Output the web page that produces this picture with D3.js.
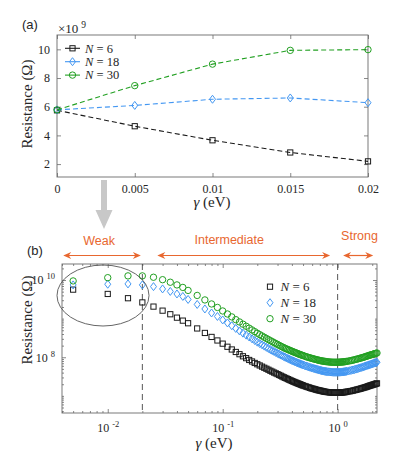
<!DOCTYPE html>
<html>
<head>
<meta charset="utf-8">
<script src="https://cdn.jsdelivr.net/npm/d3@7"></script>
<style>
  body { margin: 0; background: #fff; }
  svg text { font-family: "Liberation Serif", "Times New Roman", serif; fill: #262626; }
  svg text.sans { font-family: "Liberation Sans", Arial, sans-serif; }
</style>
</head>
<body>
<svg id="fig" width="399" height="451"></svg>
<script>
// ---- panel (a) data: resistance in units of 1e9 ohm ----
var gammaA = [0, 0.005, 0.01, 0.015, 0.02];
var resA6  = [5.75, 4.64, 3.66, 2.81, 2.19];
var resA18 = [5.78, 6.09, 6.52, 6.61, 6.28];
var resA30 = [5.78, 7.47, 8.97, 9.93, 9.98];
var xTicksA = [0, 0.005, 0.01, 0.015, 0.02];
var xTickLabelsA = ["0", "0.005", "0.01", "0.015", "0.02"];
var yTicksA = [2, 4, 6, 8, 10];

// ---- panel (b) data: resistance in ohm ----
var gammaB = [0.005,0.01,0.015,0.02,0.025,0.03,0.035,0.04,0.045,0.05,
  0.06,0.07,0.08,0.09,0.1,0.11,0.12,0.13,0.14,0.15,0.16,0.17,0.18,0.19,0.2,
  0.21,0.22,0.23,0.24,0.25,0.26,0.27,0.28,0.29,
  0.30,0.31,0.32,0.33,0.34,0.35,0.36,0.37,0.38,0.39,0.40,0.41,0.42,0.43,0.44,0.45,0.46,0.47,0.48,0.49,0.50,
  0.515,0.53,0.545,0.56,0.575,0.59,0.605,0.62,0.635,0.65,0.665,0.68,0.695,0.71,0.725,0.74,0.755,0.77,0.785,0.80,
  0.82,0.84,0.86,0.88,0.90,0.92,0.94,0.96,0.98,1.00,1.02,1.04,1.06,1.08,1.10,1.12,1.14,1.16,1.18,1.20,
  1.24,1.28,1.32,1.36,1.40,1.44,1.48,1.52,1.56,1.60,1.64,1.68,1.72,1.76,1.80,1.84,1.88,1.92,1.96,2.00,
  2.04,2.08,2.12,2.16,2.20];
var resB6 = [5.64e9,4.36e9,3.38e9,2.63e9,2.05e9,1.61e9,1.30e9,1.06e9,8.88e8,7.60e8,
  5.57e8,4.26e8,3.36e8,2.72e8,2.25e8,1.87e8,1.59e8,1.37e8,1.20e8,1.06e8,9.48e7,8.51e7,7.78e7,7.12e7,6.59e7,
  6.13e7,5.71e7,5.35e7,5.04e7,4.75e7,4.47e7,4.24e7,4.01e7,3.83e7,
  3.65e7,3.48e7,3.32e7,3.17e7,3.03e7,2.92e7,2.81e7,2.71e7,2.61e7,2.52e7,2.43e7,2.36e7,2.29e7,2.22e7,2.16e7,2.10e7,2.05e7,2.00e7,1.95e7,1.90e7,1.86e7,
  1.80e7,1.75e7,1.70e7,1.66e7,1.61e7,1.57e7,1.54e7,1.51e7,1.48e7,1.45e7,1.42e7,1.40e7,1.38e7,1.36e7,1.34e7,1.32e7,1.30e7,1.28e7,1.27e7,1.26e7,
  1.25e7,1.24e7,1.23e7,1.225e7,1.22e7,1.21e7,1.21e7,1.21e7,1.21e7,1.21e7,1.215e7,1.22e7,1.22e7,1.225e7,1.23e7,1.24e7,1.245e7,1.25e7,1.265e7,1.28e7,
  1.30e7,1.32e7,1.34e7,1.37e7,1.40e7,1.43e7,1.46e7,1.49e7,1.52e7,1.55e7,1.59e7,1.62e7,1.66e7,1.69e7,1.73e7,1.77e7,1.81e7,1.85e7,1.88e7,1.92e7,
  1.96e7,1.99e7,2.03e7,2.07e7,2.11e7];
var resB18 = [7.47e9,7.78e9,7.93e9,7.47e9,6.75e9,5.88e9,5.07e9,4.36e9,3.76e9,3.14e9,
  2.33e9,1.78e9,1.40e9,1.14e9,9.25e8,7.74e8,6.55e8,5.57e8,4.80e8,4.21e8,3.74e8,3.34e8,3.00e8,2.71e8,2.46e8,
  2.26e8,2.10e8,1.94e8,1.81e8,1.69e8,1.58e8,1.49e8,1.41e8,1.33e8,
  1.26e8,1.20e8,1.14e8,1.09e8,1.04e8,1.00e8,9.59e7,9.23e7,8.88e7,8.57e7,8.26e7,8.02e7,7.78e7,7.55e7,7.33e7,7.14e7,6.95e7,6.79e7,6.63e7,6.47e7,6.32e7,
  6.13e7,5.95e7,5.79e7,5.64e7,5.49e7,5.35e7,5.24e7,5.13e7,5.02e7,4.92e7,4.83e7,4.75e7,4.66e7,4.58e7,4.51e7,4.44e7,4.39e7,4.34e7,4.30e7,4.26e7,
  4.22e7,4.19e7,4.16e7,4.14e7,4.11e7,4.09e7,4.09e7,4.09e7,4.09e7,4.09e7,4.10e7,4.11e7,4.12e7,4.14e7,4.16e7,4.19e7,4.22e7,4.26e7,4.30e7,4.34e7,
  4.42e7,4.51e7,4.60e7,4.70e7,4.80e7,4.92e7,5.04e7,5.16e7,5.29e7,5.41e7,5.54e7,5.67e7,5.81e7,5.96e7,6.10e7,6.23e7,6.36e7,6.50e7,6.64e7,6.78e7,
  6.92e7,7.05e7,7.18e7,7.30e7,7.42e7];
var resB30 = [9.48e9,1.15e10,1.28e10,1.28e10,1.18e10,1.02e10,8.77e9,7.47e9,6.43e9,5.38e9,
  3.99e9,3.05e9,2.40e9,1.95e9,1.58e9,1.32e9,1.11e9,9.42e8,8.21e8,7.20e8,6.36e8,5.67e8,5.10e8,4.61e8,4.19e8,
  3.85e8,3.56e8,3.30e8,3.07e8,2.87e8,2.69e8,2.54e8,2.39e8,2.26e8,
  2.15e8,2.04e8,1.94e8,1.85e8,1.77e8,1.70e8,1.64e8,1.58e8,1.53e8,1.48e8,1.43e8,1.39e8,1.35e8,1.31e8,1.28e8,1.24e8,1.21e8,1.18e8,1.15e8,1.13e8,1.11e8,
  1.07e8,1.04e8,1.01e8,9.88e7,9.65e7,9.42e7,9.23e7,9.04e7,8.88e7,8.72e7,8.56e7,8.41e7,8.28e7,8.16e7,8.06e7,7.97e7,7.90e7,7.83e7,7.76e7,7.69e7,
  7.62e7,7.55e7,7.51e7,7.47e7,7.44e7,7.42e7,7.42e7,7.42e7,7.42e7,7.42e7,7.44e7,7.47e7,7.49e7,7.51e7,7.55e7,7.60e7,7.64e7,7.69e7,7.76e7,7.83e7,
  7.96e7,8.09e7,8.25e7,8.43e7,8.61e7,8.80e7,8.99e7,9.19e7,9.39e7,9.59e7,9.79e7,1.00e8,1.02e8,1.05e8,1.07e8,1.09e8,1.12e8,1.14e8,1.16e8,1.18e8,
  1.20e8,1.23e8,1.25e8,1.27e8,1.29e8];
var xMajorB = [0.01, 0.1, 1];
var yMajorB = [1e8, 1e10];
var regimes = [
  {label: "Weak",         from: 0.0041, to: 0.0194, tx: 0.0084, ty: 240},
  {label: "Intermediate", from: 0.027,  to: 0.86,   tx: 0.114,  ty: 239},
  {label: "Strong",       from: 1.116,  to: 2.04,   tx: 1.55,   ty: 235}
];

var series = [
  {name: "6",  shape: "square",  color: "#1a1a1a"},
  {name: "18", shape: "diamond", color: "#4397f2"},
  {name: "30", shape: "circle",  color: "#22a022"}
];
var boxCol = "#6a6a6a", orange = "#e8672f";
var serif = "'Liberation Serif', 'Times New Roman', serif";

var svg = d3.select("svg#fig");

//marker drawing
function marker(sel, shape, color) {
  if (shape === "circle") {
    sel.append("circle").attr("r", 3.2);
  } else if (shape === "square") {
    sel.append("rect").attr("x", -2.6).attr("y", -2.6).attr("width", 5.2).attr("height", 5.2);
  } else {
    sel.append("path").attr("d", "M0,-4L3,0L0,4L-3,0Z");
  }
  sel.selectAll("*").attr("fill", "none").attr("stroke", color).attr("stroke-width", 1);
}

function styleAxis(g, size) {
  g.attr("font-family", serif);
  g.select(".domain").remove();
  g.selectAll(".tick line").attr("stroke", boxCol).attr("stroke-width", 0.8);
  g.selectAll("text").attr("font-family", serif).attr("font-size", size).attr("fill", "#262626");
  return g;
}

/* ========== panel (a) ========== */
var xA = d3.scaleLinear().domain([0, 0.02]).range([57, 368]);
var yA = d3.scaleLinear().domain([1.1, 11]).range([177, 35]);
var gA = svg.append("g");

styleAxis(gA.append("g").attr("transform", "translate(0,177)")
  .call(d3.axisBottom(xA).tickValues(xTicksA).tickFormat(function(d, i) { return xTickLabelsA[i]; })
  .tickSize(-4).tickPadding(7)), 12);
styleAxis(gA.append("g").attr("transform", "translate(0,35)")
  .call(d3.axisTop(xA).tickValues(xTicksA).tickFormat("").tickSize(-4)), 12);
styleAxis(gA.append("g").attr("transform", "translate(57,0)")
  .call(d3.axisLeft(yA).tickValues(yTicksA).tickSize(-4).tickPadding(7)), 12);
styleAxis(gA.append("g").attr("transform", "translate(368,0)")
  .call(d3.axisRight(yA).tickValues(yTicksA).tickFormat("").tickSize(-4)), 12);

gA.append("rect").attr("x", 57).attr("y", 35).attr("width", 311).attr("height", 142)
  .attr("fill", "none").attr("stroke", boxCol).attr("stroke-width", 0.9);

var resA = [resA6, resA18, resA30];
var lineA = d3.line().x(function(d) { return xA(d[0]); }).y(function(d) { return yA(d[1]); });
series.forEach(function(s, k) {
  var pts = gammaA.map(function(g, i) { return [g, resA[k][i]]; });
  gA.append("path").attr("d", lineA(pts)).attr("fill", "none")
    .attr("stroke", s.color).attr("stroke-width", 1.1).attr("stroke-dasharray", "5,3");
  pts.forEach(function(p) {
    var m = gA.append("g").attr("transform", "translate(" + xA(p[0]) + "," + yA(p[1]) + ")");
    marker(m, s.shape, s.color);
  });
});

// legend (a)
series.forEach(function(s, k) {
  var y = 48.3 + k * 13.4;
  gA.append("line").attr("x1", 65).attr("x2", 80).attr("y1", y).attr("y2", y)
    .attr("stroke", s.color).attr("stroke-width", 1.1);
  marker(gA.append("g").attr("transform", "translate(72.5," + y + ")"), s.shape, s.color);
  var t = gA.append("text").attr("x", 85).attr("y", y + 4.2).attr("font-size", 12.5);
  t.append("tspan").attr("font-style", "italic").text("N");
  t.append("tspan").text(" = " + s.name);
});

// exponent label
var ex = gA.append("text").attr("x", 58).attr("y", 33).attr("font-size", 13);
ex.append("tspan").text("×10");
ex.append("tspan").attr("dx", 3).attr("dy", -5.5).attr("font-size", 9.5).text("9");

gA.append("text").attr("class", "sans").attr("x", 22).attr("y", 28.5).attr("font-size", 13).text("(a)");

gA.append("text").attr("transform", "translate(31.5,104) rotate(-90)")
  .attr("text-anchor", "middle").attr("font-size", 15).text("Resistance (Ω)");
var xlA = gA.append("text").attr("x", 212).attr("y", 207).attr("text-anchor", "middle").attr("font-size", 15);
xlA.append("tspan").attr("font-style", "italic").text("γ");
xlA.append("tspan").text(" (eV)");

// gray arrow between panels
svg.append("path").attr("d", "M101,180L107,180L107,210L112.5,210L104,229L95.5,210L101,210Z")
  .attr("fill", "#c8c8c8");

/* ========== panel (b) ========== */
var xB = d3.scaleLog().domain([0.004, 2.2]).range([62, 377]);
var yB = d3.scaleLog().domain([3.6e6, 2.6e10]).range([413, 264]);
var gB = svg.append("g");

function minorTicks(scale, majors) {
  var out = [], dom = scale.domain();
  for (var e = -4; e <= 11; e++) {
    for (var m = 1; m <= 9; m++) {
      var v = m * Math.pow(10, e);
      if (v >= dom[0] && v <= dom[1] && majors.indexOf(v) < 0) out.push(v);
    }
  }
  return out;
}
var xMinorB = minorTicks(xB, xMajorB);
var yMinorB = minorTicks(yB, yMajorB);

function powLabel(sel, supSize, supDy) {
  sel.each(function(d) {
    var t = d3.select(this), e = Math.round(Math.log10(d));
    t.text(null);
    t.append("tspan").text("10");
    t.append("tspan").attr("dx", 3).attr("dy", supDy).attr("font-size", supSize).text(e);
  });
}

var bx = gB.append("g").attr("transform", "translate(0,413)")
  .call(d3.axisBottom(xB).tickValues(xMajorB).tickSize(-4).tickPadding(10));
styleAxis(bx, 12);
powLabel(bx.selectAll("text"), 8.5, -5);
styleAxis(gB.append("g").attr("transform", "translate(0,413)")
  .call(d3.axisBottom(xB).tickValues(xMinorB).tickFormat("").tickSize(-2)), 12);
styleAxis(gB.append("g").attr("transform", "translate(0,264)")
  .call(d3.axisTop(xB).tickValues(xMajorB).tickFormat("").tickSize(-4)), 12);
styleAxis(gB.append("g").attr("transform", "translate(0,264)")
  .call(d3.axisTop(xB).tickValues(xMinorB).tickFormat("").tickSize(-2)), 12);

var by = gB.append("g").attr("transform", "translate(62,0)")
  .call(d3.axisLeft(yB).tickValues(yMajorB).tickSize(-4).tickPadding(7));
styleAxis(by, 12);
powLabel(by.selectAll("text"), 8.5, -5);
styleAxis(gB.append("g").attr("transform", "translate(62,0)")
  .call(d3.axisLeft(yB).tickValues(yMinorB).tickFormat("").tickSize(-2)), 12);
styleAxis(gB.append("g").attr("transform", "translate(377,0)")
  .call(d3.axisRight(yB).tickValues(yMajorB).tickFormat("").tickSize(-4)), 12);
styleAxis(gB.append("g").attr("transform", "translate(377,0)")
  .call(d3.axisRight(yB).tickValues(yMinorB).tickFormat("").tickSize(-2)), 12);

gB.append("rect").attr("x", 62).attr("y", 264).attr("width", 315).attr("height", 149)
  .attr("fill", "none").attr("stroke", boxCol).attr("stroke-width", 0.9);

// regime boundaries
[0.02, 1].forEach(function(g) {
  gB.append("line").attr("x1", xB(g)).attr("x2", xB(g)).attr("y1", 264).attr("y2", 413)
    .attr("stroke", "#444").attr("stroke-width", 0.9).attr("stroke-dasharray", "6,4");
});

// data points
var resB = [resB6, resB18, resB30];
series.forEach(function(s, k) {
  var g = gB.append("g");
  gammaB.forEach(function(gm, i) {
    marker(g.append("g").attr("transform", "translate(" + xB(gm) + "," + yB(resB[k][i]) + ")"), s.shape, s.color);
  });
});

// weak-regime ellipse
gB.append("ellipse").attr("cx", 103).attr("cy", 295.5).attr("rx", 46).attr("ry", 30.5)
  .attr("fill", "none").attr("stroke", "#555").attr("stroke-width", 0.9);

// legend (b)
series.forEach(function(s, k) {
  var y = 286.7 + k * 16;
  marker(gB.append("g").attr("transform", "translate(270," + y + ")"), s.shape, s.color);
  var t = gB.append("text").attr("x", 280.5).attr("y", y + 4.5).attr("font-size", 13);
  t.append("tspan").attr("font-style", "italic").text("N");
  t.append("tspan").text(" = " + s.name);
});

// regime annotations
function head(x, y, dir) {
  return "M" + x + "," + y + "L" + (x - dir * 8) + "," + (y - 3.5) + "L" + (x - dir * 5.5) + "," + y +
         "L" + (x - dir * 8) + "," + (y + 3.5) + "Z";
}
regimes.forEach(function(r) {
  var x1 = xB(r.from), x2 = xB(r.to), y = 255.5;
  gB.append("line").attr("x1", x1 + 4).attr("x2", x2 - 4).attr("y1", y).attr("y2", y)
    .attr("stroke", orange).attr("stroke-width", 1.2);
  gB.append("path").attr("d", head(x2, y, 1)).attr("fill", orange);
  gB.append("path").attr("d", head(x1, y, -1)).attr("fill", orange);
  gB.append("text").attr("class", "sans").attr("x", xB(r.tx)).attr("y", r.ty + 4.5)
    .attr("text-anchor", "middle").attr("font-size", 12.5).style("fill", orange).text(r.label);
});

gB.append("text").attr("class", "sans").attr("x", 27).attr("y", 254.5).attr("font-size", 13).text("(b)");

gB.append("text").attr("transform", "translate(32,320) rotate(-90)")
  .attr("text-anchor", "middle").attr("font-size", 15).text("Resistance (Ω)");
var xlB = gB.append("text").attr("x", 214).attr("y", 447.5).attr("text-anchor", "middle").attr("font-size", 15);
xlB.append("tspan").attr("font-style", "italic").text("γ");
xlB.append("tspan").text(" (eV)");
</script>
</body>
</html>
